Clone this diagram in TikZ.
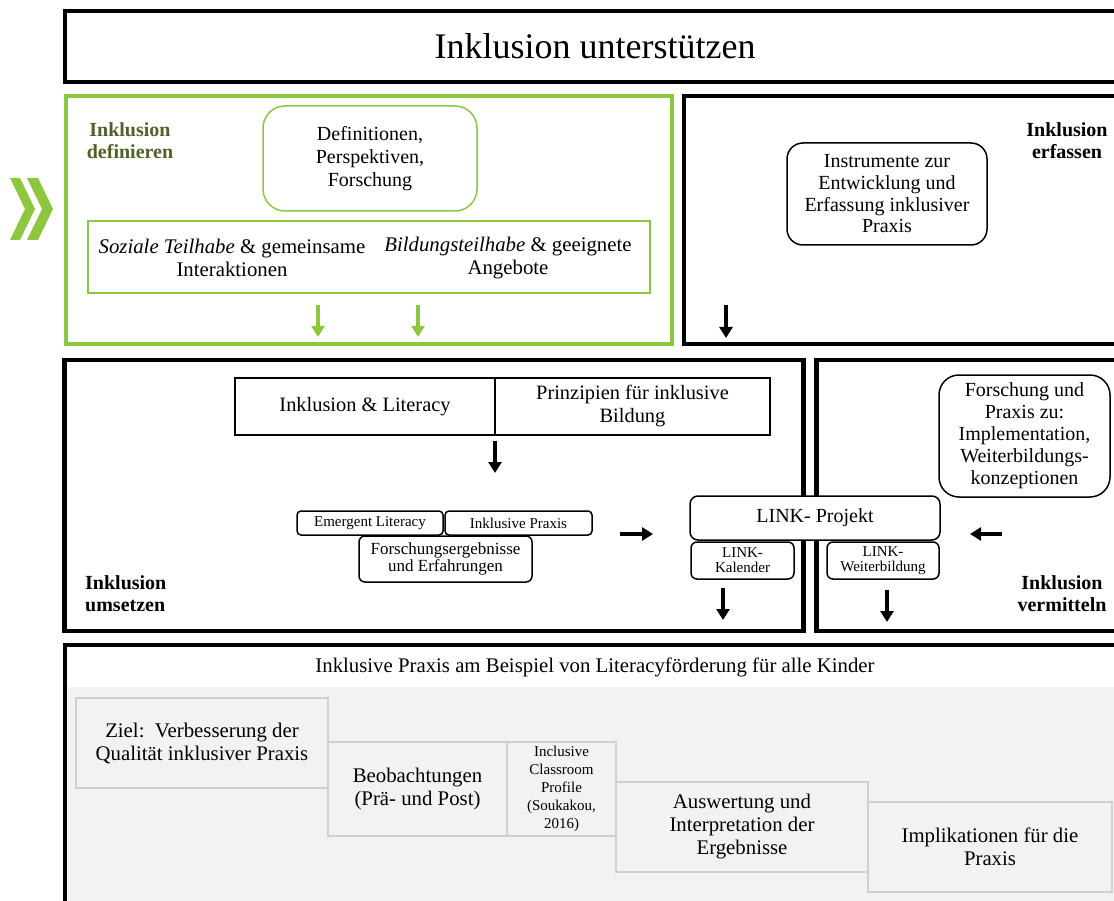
\documentclass[tikz,border=0pt]{standalone}
\usepackage{fontspec}
\setmainfont{Liberation Serif}
\usetikzlibrary{arrows.meta}
\definecolor{lgreen}{RGB}{141,198,63}
\definecolor{dgreen}{RGB}{79,98,40}
\definecolor{panelgray}{RGB}{242,242,242}
\definecolor{edgegray}{RGB}{208,208,208}
\newcommand{\setfs}[2]{\fontsize{#1}{#2}\selectfont}

\begin{document}
\begin{tikzpicture}[x=1pt,y=-1pt,
  heavy/.style={draw=black,line width=4.5pt,inner sep=0pt},
  gheavy/.style={draw=lgreen,line width=4pt,inner sep=0pt},
  plainbox/.style={draw=black,line width=1.5pt,inner sep=0pt,align=center},
  gbox/.style={draw=lgreen,line width=1.5pt,inner sep=0pt,align=center},
  greybox/.style={draw=edgegray,line width=1.5pt,fill=panelgray,inner sep=0pt,align=center,font=\setfs{20.8}{23}},
  txt/.style={font=\setfs{20}{23},align=center,inner sep=0pt},
  tag/.style={font=\bfseries\setfs{20}{22},align=center,inner sep=0pt},
  down/.style={-{Triangle[width=13pt,length=11pt]},line width=3.5pt},
]
\useasboundingbox (0,0) rectangle (1114,901);
\clip (0,0) rectangle (1114,901);

% title bar
\node[heavy,minimum width=1060,minimum height=71,font=\setfs{36}{40}] (title) at (595,46.5) {Inklusion unterstützen};

% chevrons
\fill[lgreen] (10,178) -- (20,178) -- (35,209) -- (20,240) -- (10,240) -- (25,209) -- cycle;
\fill[lgreen] (27,178) -- (38,178) -- (53,209) -- (38,240) -- (27,240) -- (42,209) -- cycle;

% ---- Inklusion definieren
\node[gheavy,minimum width=606.5,minimum height=248] (def) at (368.75,220) {};
\node[tag,text=dgreen] (defl) at (130,141) {Inklusion\\definieren};
\node[gbox,rounded corners=22pt,minimum width=214,minimum height=105,font=\setfs{20}{23}] (dpf) at (370,158.5) {Definitionen,\\Perspektiven,\\Forschung};
\node[gbox,minimum width=562,minimum height=72] (teil) at (369,257) {};
\node[txt,font=\setfs{20.8}{23}] (soz) at (232,258) {\textit{Soziale Teilhabe} \& gemeinsame\\Interaktionen};
\node[txt,font=\setfs{20.8}{23}] (bil) at (508,258) {\textit{Bildungsteilhabe} \& geeignete\\Angebote};
\coordinate (ga1) at (318,305); \coordinate (gb1) at (318,337);
\coordinate (ga2) at (418,305); \coordinate (gb2) at (418,337);
\draw[down,lgreen] (ga1) -- (gb1);
\draw[down,lgreen] (ga2) -- (gb2);

% ---- Inklusion erfassen
\node[heavy,minimum width=446,minimum height=248] (erf) at (907,220) {};
\node[tag] (erfl) at (1067,141) {Inklusion\\erfassen};
\node[plainbox,rounded corners=16pt,minimum width=200,minimum height=102,font=\setfs{20}{21.7}] (instr) at (887,194) {Instrumente zur\\Entwicklung und\\Erfassung inklusiver\\Praxis};
\coordinate (ea) at (726,305); \coordinate (eb) at (726,338);
\draw[down] (ea) -- (eb);

% ---- Inklusion umsetzen
\node[heavy,minimum width=739,minimum height=271] (ums) at (434,495.5) {};
\node[heavy,minimum width=313.5,minimum height=271] (verm) at (973.25,495.5) {};
\node[plainbox,minimum width=260,minimum height=57,font=\setfs{20.4}{23}] (inlit) at (365,406.5) {Inklusion \& Literacy};
\node[plainbox,minimum width=275,minimum height=57,font=\setfs{20.4}{23}] (prinz) at (632.5,406.5) {Prinzipien für inklusive\\Bildung};
\coordinate (ua) at (495,441); \coordinate (ub) at (495,473);
\draw[down] (ua) -- (ub);
\node[plainbox,rounded corners=4pt,minimum width=146,minimum height=24,font=\setfs{15}{16}] (emer) at (370,523) {Emergent Literacy};
\node[plainbox,rounded corners=4pt,minimum width=147,minimum height=24,font=\setfs{15}{16}] (ipx) at (518.5,523) {Inklusive Praxis};
\node[plainbox,rounded corners=6pt,minimum width=173,minimum height=46,font=\setfs{17}{17}] (ferg) at (445.5,559) {Forschungsergebnisse\\und Erfahrungen};
\coordinate (ra) at (620,534); \coordinate (rb) at (653,534);
\draw[down] (ra) -- (rb);
\node[tag,anchor=west,align=left] (umsl) at (85,594) {Inklusion\\umsetzen};

% ---- Inklusion vermitteln
\node[plainbox,fill=white,rounded corners=8pt,minimum width=250,minimum height=44,font=\setfs{20}{23}] (link) at (815,518) {LINK- Projekt};
\node[plainbox,rounded corners=6pt,minimum width=103,minimum height=37,font=\setfs{15}{15}] (lkal) at (742.5,560.5) {LINK-\\Kalender};
\node[plainbox,rounded corners=6pt,minimum width=112,minimum height=37,font=\setfs{15}{15}] (lweit) at (883,560.5) {LINK-\\Weiterbildung};
\coordinate (ka) at (723,588); \coordinate (kb) at (723,620);
\coordinate (wa) at (887,590); \coordinate (wb) at (887,622);
\draw[down] (ka) -- (kb);
\draw[down] (wa) -- (wb);
\node[plainbox,rounded corners=20pt,minimum width=171,minimum height=122,font=\setfs{20}{22}] (fpz) at (1024.5,436) {Forschung und\\Praxis zu:\\Implementation,\\Weiterbildungs-\\konzeptionen};
\coordinate (la) at (1002,534); \coordinate (lb) at (970,534);
\draw[down] (la) -- (lb);
\node[tag] (verml) at (1062,594) {Inklusion\\vermitteln};

% ---- Inklusive Praxis (bottom panel)
\fill[panelgray] (67.5,687) rectangle (1114,901);
\node[heavy,minimum width=1065,minimum height=275] (praxis) at (597.5,782.5) {};
\node[txt,font=\setfs{20.8}{23}] (phead) at (595,667) {Inklusive Praxis am Beispiel von Literacyförderung für alle Kinder};
\node[greybox,minimum width=252,minimum height=90] (ziel) at (202,743) {Ziel:\ \ Verbesserung der\\Qualität inklusiver Praxis};
\node[greybox,minimum width=179,minimum height=94] (beob) at (417.5,789) {Beobachtungen\\(Prä- und Post)};
\node[greybox,minimum width=109,minimum height=94,font=\setfs{15}{18}] (icp) at (561.5,789) {Inclusive\\Classroom\\Profile\\(Soukakou,\\2016)};
\node[greybox,minimum width=252,minimum height=90] (ausw) at (742,827) {Auswertung und\\Interpretation der\\Ergebnisse};
\node[greybox,minimum width=244,minimum height=90] (impl) at (990,847) {Implikationen für die\\Praxis};
\end{tikzpicture}
\end{document}
